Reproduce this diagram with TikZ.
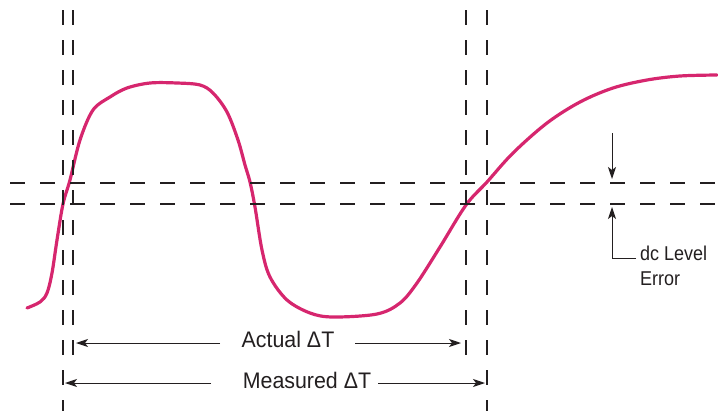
\documentclass[tikz,border=0pt]{standalone}
\usepackage{fontspec}
\setmainfont{Liberation Sans}
\newfontfamily\lblfont[FakeStretch=0.95]{Liberation Sans}
\newfontfamily\smallfont[FakeStretch=0.9]{Liberation Sans}
\usetikzlibrary{arrows.meta}
\definecolor{curvec}{RGB}{214,38,110}
\definecolor{ink}{RGB}{35,31,32}
\tikzset{
  guide/.style={draw=ink, line width=1.3pt, dash pattern=on 15pt off 15pt},
  sig/.style={draw=curvec, line width=3.2pt, line cap=round, line join=round},
  arr/.style={draw=ink, line width=1pt, -{Stealth[length=12pt,width=8pt,inset=3pt]}},
  lbl/.style={text=ink, font=\lblfont\fontsize{22.5}{26}\selectfont, inner sep=0pt},
  small/.style={text=ink, font=\smallfont\fontsize{20}{25}\selectfont, inner sep=0pt, align=left}
}
\begin{document}
\begin{tikzpicture}[x=1pt,y=-1pt]
\useasboundingbox (0,0) rectangle (718,410);
% signal
\draw[sig] plot[smooth, tension=0.55] coordinates {
 (27,308) (40,302) (47,293) (52,273) (57,240) (63,204) (70,180) (80,140) (93,110)
 (110,97) (127,88) (150,83) (177,83) (200,85) (213,93) (227,112) (238,140)
 (245,165) (250,182) (255,207) (262,250) (270,277) (287,300) (310,313)
 (333,317) (377,314) (400,303) (417,283) (440,247) (466,205) (487,182)
 (513,153) (547,123) (580,102) (613,88) (647,80) (680,76) (717,75)};
% guide lines
\coordinate (v1t) at (63,10);  \coordinate (v1b) at (63,412);
\coordinate (v2t) at (73,10);  \coordinate (v2b) at (73,357);
\coordinate (v3t) at (466,10); \coordinate (v3b) at (466,357);
\coordinate (v4t) at (487,10); \coordinate (v4b) at (487,412);
\coordinate (h1l) at (10,183); \coordinate (h1r) at (720,183);
\coordinate (h2l) at (10,204); \coordinate (h2r) at (720,204);
\draw[guide] (v1t) -- (v1b);
\draw[guide] (v2t) -- (v2b);
\draw[guide] (v3t) -- (v3b);
\draw[guide] (v4t) -- (v4b);
\draw[guide] (h1l) -- (h1r);
\draw[guide] (h2l) -- (h2r);
% Actual
\node[lbl] (act) at (288,339) {Actual ΔT};
\coordinate (a1s) at (220,343); \coordinate (a1e) at (76,343);
\coordinate (a2s) at (355,343); \coordinate (a2e) at (461,343);
\draw[arr] (a1s) -- (a1e);
\draw[arr] (a2s) -- (a2e);
% Measured
\node[lbl] (mea) at (307,380) {Measured ΔT};
\coordinate (m1s) at (211,383); \coordinate (m1e) at (65,383);
\coordinate (m2s) at (378,383); \coordinate (m2e) at (485,383);
\draw[arr] (m1s) -- (m1e);
\draw[arr] (m2s) -- (m2e);
% dc level error
\coordinate (d1s) at (612,133); \coordinate (d1e) at (612,179);
\draw[arr] (d1s) -- (d1e);
\node[small, anchor=north west] (dc) at (640,246) {dc Level\\Error};
\coordinate (d2c) at (636,258); \coordinate (d2e) at (612,207);
\draw[arr] (d2c) -| (d2e);
\end{tikzpicture}
\end{document}
